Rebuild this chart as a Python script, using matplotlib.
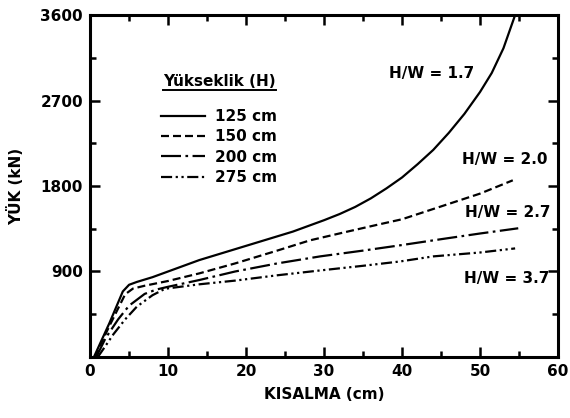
import matplotlib
matplotlib.use("Agg")
import matplotlib.pyplot as plt
from matplotlib.lines import Line2D
from matplotlib.ticker import MultipleLocator

plt.rcParams['font.family'] = ['DejaVu Sans']
plt.rcParams['font.weight'] = 'bold'

# Data (KISALMA cm, YÜK kN)
x125 = [0.5, 2.5, 4.2, 5.0, 6.0, 8.0, 10.0, 14.0, 18.0, 22.0, 26.0, 30.0, 32.0, 34.0, 36.0, 38.0, 40.0,
        42.0, 44.0, 46.0, 48.0, 50.0, 51.5, 53.0, 54.5]
y125 = [0, 360, 690, 760, 790, 840, 900, 1020, 1120, 1220, 1320, 1440, 1505, 1580, 1670, 1775, 1890,
        2030, 2180, 2360, 2560, 2790, 2990, 3250, 3600]

x150 = [0.6, 2.5, 4.5, 5.5, 7.0, 10.0, 14.0, 18.6, 24.0, 28.2, 33.0, 37.0, 40.0, 45.0, 50.0, 54.2]
y150 = [0, 330, 660, 720, 750, 800, 880, 985, 1120, 1228, 1320, 1395, 1450, 1585, 1720, 1860]

x200 = [0.8, 2.0, 3.6, 5.0, 7.0, 8.5, 10.0, 14.0, 18.6, 24.0, 29.5, 35.0, 39.7, 45.0, 50.0, 54.9]
y200 = [0, 200, 396, 540, 664, 710, 739, 810, 900, 985, 1059, 1120, 1175, 1240, 1300, 1355]

x275 = [1.0, 1.9, 3.0, 4.5, 6.0, 8.0, 9.6, 14.0, 18.6, 24.0, 29.5, 35.0, 39.7, 44.0, 50.0, 54.5]
y275 = [0, 107, 240, 396, 530, 650, 718, 765, 804, 860, 911, 960, 1005, 1059, 1100, 1143]

labels = ['125 cm', '150 cm', '200 cm', '275 cm']
hw_labels = ['H/W = 1.7', 'H/W = 2.0', 'H/W = 2.7', 'H/W = 3.7']
hw_pos = [(43.8, 2982), (53.2, 2080), (53.6, 1525), (53.4, 825)]

xticks = [0, 10, 20, 30, 40, 50, 60]
yticks = [900, 1800, 2700, 3600]

fig = plt.figure(figsize=(5.70, 4.18), dpi=100)
ax = fig.add_axes([0.158, 0.146, 0.821, 0.818])

lw = 1.6
styles = ['-', (0, (3.6, 1.8)), (0, (9, 2, 1.2, 2)), (0, (5, 1.6, 1.0, 1.6, 1.0, 1.6))]
lines = []
for xs, ys, st, lb in zip([x125, x150, x200, x275], [y125, y150, y200, y275], styles, labels):
    ln, = ax.plot(xs, ys, color='black', lw=lw, linestyle=st, label=lb)
    lines.append(ln)

ax.set_xlim(0, 60)
ax.set_ylim(0, 3600)
ax.set_xticks(xticks)
ax.set_yticks(yticks)
ax.xaxis.set_minor_locator(MultipleLocator(5))
ax.yaxis.set_minor_locator(MultipleLocator(450))
ax.tick_params(which='both', direction='in', top=True, right=True, width=1.8, labelsize=11)
ax.tick_params(which='major', length=7, pad=5)
ax.tick_params(which='minor', length=4)
for sp in ax.spines.values():
    sp.set_linewidth(2.2)
for lab in ax.get_xticklabels() + ax.get_yticklabels():
    lab.set_fontweight('bold')

ax.set_xlabel('KISALMA (cm)', fontsize=11, fontweight='bold', labelpad=6)
ax.set_ylabel('YÜK (kN)', fontsize=11, fontweight='bold', labelpad=12)

for txt, (tx, ty) in zip(hw_labels, hw_pos):
    ax.text(tx, ty, txt, ha='center', va='center', fontsize=11, fontweight='bold')

title = ax.text(0.277, 0.805, 'Yükseklik (H)', transform=ax.transAxes, ha='center', va='center',
                fontsize=11, fontweight='bold')

leg = ax.legend(handles=lines, labels=labels, loc='upper left', bbox_to_anchor=(0.152, 0.725),
                frameon=False, fontsize=11, handlelength=2.9, handletextpad=0.6,
                labelspacing=0.35, borderpad=0, borderaxespad=0)
for t in leg.get_texts():
    t.set_fontweight('bold')

fig.canvas.draw()
bb = title.get_window_extent()
fig.add_artist(Line2D([bb.x0, bb.x1], [bb.y0 - 1, bb.y0 - 1], transform=None, color='black', lw=1.4))

fig.savefig('out.png', dpi=100)
